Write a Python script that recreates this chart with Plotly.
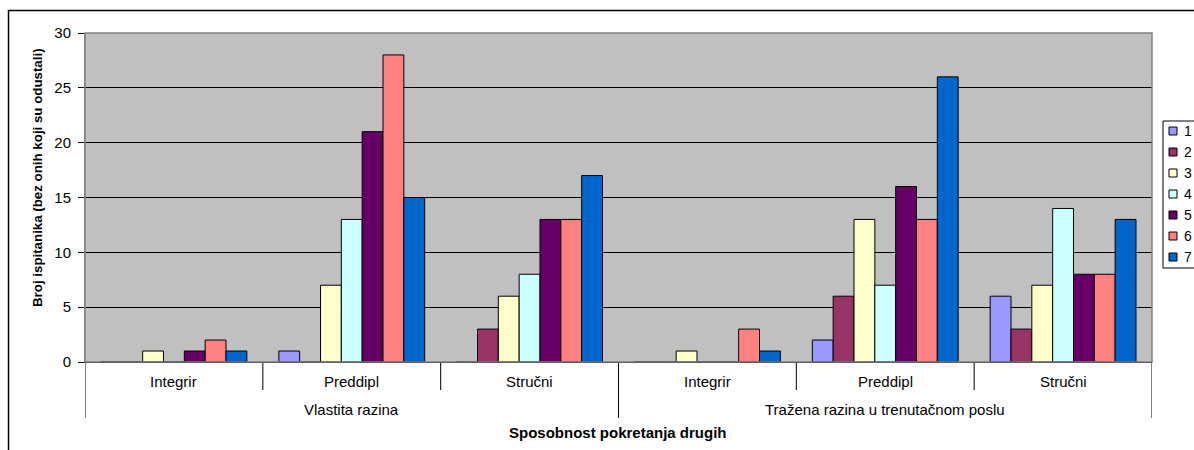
import plotly.graph_objects as go

# ---------------- data ----------------
outer_labels = ["Vlastita razina", "Tražena razina u trenutačnom poslu"]
outer = ["Vlastita razina"] * 3 + ["Tražena razina u trenutačnom poslu"] * 3
inner = ["Integrir", "Preddipl", "Stručni", "Integrir", "Preddipl", "Stručni"]

series_names = ["1", "2", "3", "4", "5", "6", "7"]
s1 = [0, 1, 0, 0, 2, 6]
s2 = [0, 0, 3, 0, 6, 3]
s3 = [1, 7, 6, 1, 13, 7]
s4 = [0, 13, 8, 0, 7, 14]
s5 = [1, 21, 13, 0, 16, 8]
s6 = [2, 28, 13, 3, 13, 8]
s7 = [1, 15, 17, 1, 26, 13]
series_values = [s1, s2, s3, s4, s5, s6, s7]
colors = ["#9999FF", "#993366", "#FFFFCC", "#CCFFFF", "#660066", "#FF8080", "#0066CC"]

y_ticks = [0, 5, 10, 15, 20, 25, 30]

FONT = "Liberation Sans, Arial, sans-serif"

W, H = 1194, 450
L, T = 85, 33
PR, PB = 1152, 362
R, B = W - PR, H - PB
pw, ph = PR - L, PB - T

def px(rx):
    return (rx - L) / pw

def py(ry):
    return (PB - ry) / ph

positions = list(range(len(inner)))

fig = go.Figure()
for name, vals, col in zip(series_names, series_values, colors):
    fig.add_trace(go.Bar(
        x=positions, y=vals, name=name,
        marker=dict(color=col, line=dict(color="#000000", width=1)),
        showlegend=False,
    ))

annotations = []
shapes = []

for p, lab in zip(positions, inner):
    annotations.append(dict(x=p, y=py(381), xref="x", yref="paper", text=lab,
                            showarrow=False, xanchor="center", yanchor="middle",
                            font=dict(size=15)))
n_in = len(inner) // len(outer_labels)
for gi, lab in enumerate(outer_labels):
    centre = gi * n_in + (n_in - 1) / 2
    annotations.append(dict(x=centre, y=py(409), xref="x", yref="paper", text=lab,
                            showarrow=False, xanchor="center", yanchor="middle",
                            font=dict(size=15)))
for i in range(len(inner) + 1):
    b = i - 0.5
    is_outer = (i % n_in == 0)
    shapes.append(dict(type="line", xref="x", yref="paper", x0=b, x1=b,
                       y0=0, y1=py(418 if is_outer else 390),
                       line=dict(color="black", width=1)))

annotations.append(dict(x=px(618), y=py(432), xref="paper", yref="paper",
                        text="<b>Sposobnost pokretanja drugih</b>", showarrow=False,
                        xanchor="center", yanchor="middle", font=dict(size=15)))
annotations.append(dict(x=px(37), y=py(178), xref="paper", yref="paper",
                        text="<b>Broj ispitanika (bez onih koji su odustali)</b>",
                        showarrow=False, textangle=-90,
                        xanchor="center", yanchor="middle", font=dict(size=13.3)))

# legend (cut off at right edge, as in the reference)
shapes.append(dict(type="rect", xref="paper", yref="paper",
                   x0=px(1163), x1=px(1215), y0=py(268), y1=py(121),
                   line=dict(color="black", width=1), fillcolor="white"))
for i, (name, col) in enumerate(zip(series_names, colors)):
    cy = 131 + 21 * i
    shapes.append(dict(type="rect", xref="paper", yref="paper",
                       x0=px(1169), x1=px(1177), y0=py(cy + 4), y1=py(cy - 4),
                       line=dict(color="black", width=1), fillcolor=col))
    annotations.append(dict(x=px(1182), y=py(cy), xref="paper", yref="paper",
                            text=name, showarrow=False, xanchor="left", yanchor="middle",
                            font=dict(size=14)))

# chart frame
shapes.append(dict(type="rect", xref="paper", yref="paper",
                   x0=px(8.5), x1=px(1230), y0=py(480), y1=py(10.5),
                   line=dict(color="black", width=1.5), fillcolor="rgba(0,0,0,0)",
                   layer="below"))
# plot border
shapes.append(dict(type="rect", xref="paper", yref="paper", x0=0, x1=1, y0=0, y1=1,
                   line=dict(color="#808080", width=1.5), fillcolor="rgba(0,0,0,0)"))

fig.update_layout(
    width=W, height=H,
    margin=dict(l=L, r=R, t=T, b=B, autoexpand=False),
    paper_bgcolor="white",
    plot_bgcolor="#C0C0C0",
    barmode="group",
    bargap=0.18,
    bargroupgap=0,
    font=dict(family=FONT, size=15, color="black"),
    showlegend=False,
    xaxis=dict(
        range=[-0.5, len(inner) - 0.5],
        showticklabels=False, ticks="", showgrid=False, zeroline=False,
        showline=True, linecolor="black", linewidth=1,
    ),
    yaxis=dict(
        range=[0, 30], tickvals=y_ticks,
        showgrid=True, gridcolor="#000000", gridwidth=1,
        ticks="outside", ticklen=6, tickcolor="black",
        ticklabelstandoff=4,
        showline=True, linecolor="#808080", linewidth=1,
        tickfont=dict(size=15),
        zeroline=False,
    ),
    annotations=annotations,
    shapes=shapes,
)

fig.write_html(
    "out.html",
    config={"displayModeBar": False},
    post_script="document.body.style.margin='0';document.body.style.overflow='hidden';",
)
